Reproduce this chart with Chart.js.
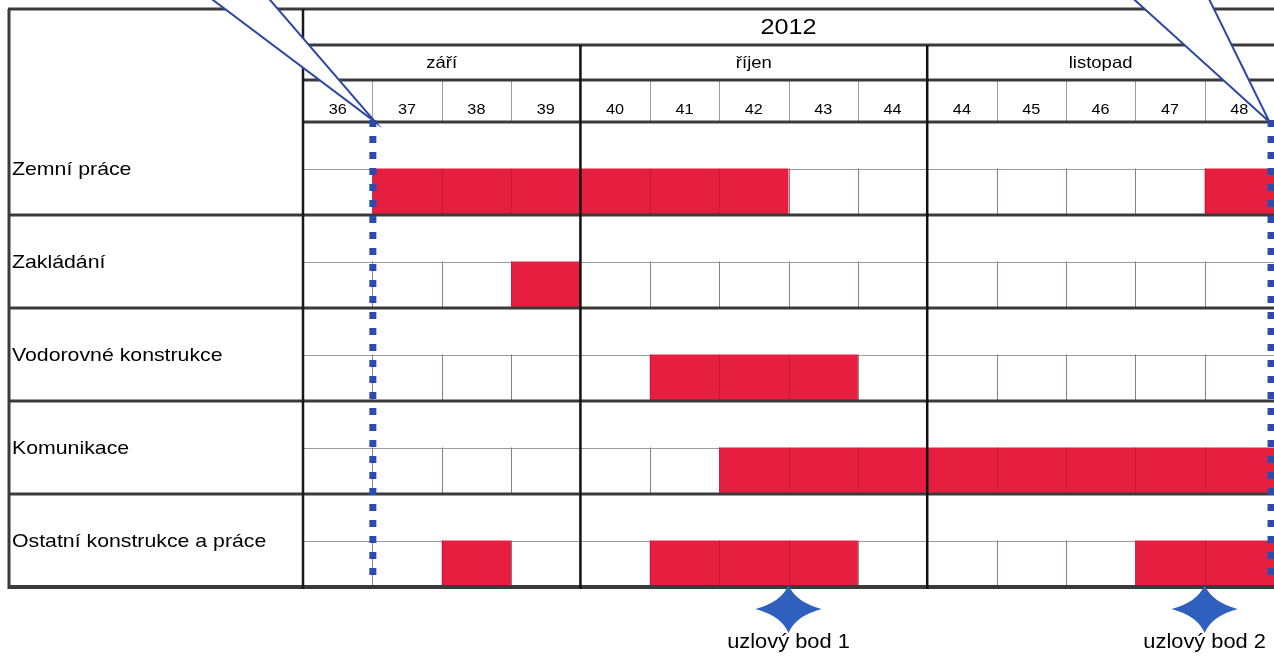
<!DOCTYPE html>
<html>
<head>
<meta charset="utf-8">
<script src="https://cdn.jsdelivr.net/npm/chart.js@4/dist/chart.umd.min.js"></script>
<style>
  html, body { margin: 0; padding: 0; background: #fff; }
  canvas { display: block; }
</style>
</head>
<body>
<canvas id="c" width="1274" height="657"></canvas>
<script>
/* Harmonogram 2012 — Gantt kreslený přes floating bar (indexAxis y) */
const year = '2012';
const months = ['září', 'říjen', 'listopad'];
const monthStart = [0, 4, 9];          // index týdne, kde měsíc začíná
const weeks = ['36', '37', '38', '39', '40', '41', '42', '43', '44', '44', '45', '46', '47', '48'];
const tasks = ['Zemní práce', 'Zakládání', 'Vodorovné konstrukce', 'Komunikace', 'Ostatní konstrukce a práce'];

// úseky prací: řádek, od (index týdne), do
const barTask  = [0, 0, 1, 2, 3, 4, 4, 4];
const barStart = [1, 13, 3, 5, 6, 2, 5, 12];
const barEnd   = [7, 14, 4, 8, 14, 3, 8, 14];

const milestoneX = [1, 13.95];          // modré tečkované čáry
const nodeX = [7, 13];                  // uzlové body (hvězdy)
const nodeLabels = ['uzlový bod 1', 'uzlový bod 2'];

const RED = '#E61E3F', BLUE = '#2B4BAF', STAR = '#2F60BE', FRAME = '#3a3a3a';
const FONT = '"Liberation Sans", Arial, sans-serif';

function txt(ctx, s, x, y, size, align) {
  ctx.save();
  ctx.font = size + 'px ' + FONT;
  ctx.fillStyle = '#000';
  ctx.textAlign = align || 'center';
  ctx.textBaseline = 'middle';
  ctx.translate(x, y);
  ctx.scale(1.12, 1);                   // předloha je vodorovně roztažená
  ctx.fillText(s, 0, 0);
  ctx.restore();
}
function line(ctx, x1, y1, x2, y2, w, c) {
  ctx.beginPath(); ctx.moveTo(x1, y1); ctx.lineTo(x2, y2);
  ctx.lineWidth = w; ctx.strokeStyle = c; ctx.stroke();
}
function star(ctx, cx, cy, rx, ry) {
  const k = 7;
  ctx.beginPath();
  ctx.moveTo(cx, cy - ry);
  ctx.quadraticCurveTo(cx + k, cy - k, cx + rx, cy);
  ctx.quadraticCurveTo(cx + k, cy + k, cx, cy + ry);
  ctx.quadraticCurveTo(cx - k, cy + k, cx - rx, cy);
  ctx.quadraticCurveTo(cx - k, cy - k, cx, cy - ry);
  ctx.closePath();
  ctx.fillStyle = STAR; ctx.fill();
}

const HEAD_TOP = 9, YEAR_BOT = 45, MONTH_BOT = 80, FRAME_L = 9, LABEL_R = 303;

const tablePlugin = {
  id: 'ganttTable',
  beforeDraw(chart) {
    const ctx = chart.ctx;
    ctx.save(); ctx.fillStyle = '#fff'; ctx.fillRect(0, 0, chart.width, chart.height); ctx.restore();
  },
  beforeDatasetsDraw(chart) {
    const { ctx, chartArea: a, scales: { x, y } } = chart;
    ctx.save();
    // tenké šedé čáry: týdny v hlavičce + spodní polovina řádků
    for (let k = 1; k < weeks.length; k++) {
      const px = Math.round(x.getPixelForValue(k)) + 0.5;
      line(ctx, px, MONTH_BOT, px, a.top, 1, '#9a9a9a');
      for (let i = 0; i < tasks.length; i++) {
        line(ctx, px, y.getPixelForValue(i + 0.5), px, y.getPixelForValue(i + 1), 1, '#9a9a9a');
      }
    }
    for (let i = 0; i < tasks.length; i++) {
      const py = Math.round(y.getPixelForValue(i + 0.5)) + 0.5;
      line(ctx, a.left, py, a.right, py, 1, '#9a9a9a');
    }
    ctx.restore();
  },
  afterDatasetsDraw(chart) {
    const { ctx, chartArea: a, scales: { x, y } } = chart;
    ctx.save();
    // slabé čáry přes červené úseky
    for (let k = 1; k < weeks.length; k++) {
      const px = Math.round(x.getPixelForValue(k)) + 0.5;
      for (let i = 0; i < tasks.length; i++) {
        line(ctx, px, y.getPixelForValue(i + 0.5), px, y.getPixelForValue(i + 1), 1, 'rgba(90,0,20,0.18)');
      }
    }
    // tlusté rámy
    line(ctx, FRAME_L - 1, HEAD_TOP, a.right, HEAD_TOP, 3, FRAME);
    line(ctx, LABEL_R, YEAR_BOT, a.right, YEAR_BOT, 3, FRAME);
    line(ctx, LABEL_R, MONTH_BOT, a.right, MONTH_BOT, 3, FRAME);
    line(ctx, LABEL_R, a.top, a.right, a.top, 3, FRAME);
    for (let i = 1; i <= tasks.length; i++) {
      const py = y.getPixelForValue(i);
      line(ctx, FRAME_L - 1, py, a.right, py, i === tasks.length ? 4 : 3, FRAME);
    }
    line(ctx, FRAME_L, HEAD_TOP, FRAME_L, a.bottom + 2, 3, FRAME);
    line(ctx, LABEL_R, HEAD_TOP, LABEL_R, a.bottom + 2, 2.5, '#1a1a1a');
    monthStart.forEach((m, i) => {
      if (i === 0) return;
      const px = x.getPixelForValue(m);
      line(ctx, px, YEAR_BOT, px, a.bottom + 2, 2.5, '#111');
    });

    // texty hlavičky
    txt(ctx, year, (a.left + a.right) / 2, (HEAD_TOP + YEAR_BOT) / 2 + 1, 22.5);
    monthStart.forEach((m, i) => {
      const end = i + 1 < monthStart.length ? monthStart[i + 1] : weeks.length;
      txt(ctx, months[i], (x.getPixelForValue(m) + x.getPixelForValue(end)) / 2, (YEAR_BOT + MONTH_BOT) / 2 + 1, 16.5);
    });
    weeks.forEach((w, k) => {
      txt(ctx, w, x.getPixelForValue(k + 0.5), 110, 14.5);
    });
    tasks.forEach((t, i) => {
      txt(ctx, t, FRAME_L + 3, y.getPixelForValue(i + 0.5) + 1, 19, 'left');
    });

    // modré tečkované čáry
    ctx.fillStyle = BLUE;
    milestoneX.forEach(m => {
      const px = x.getPixelForValue(m);
      for (let py = a.top - 2; py < a.bottom - 4; py += 16) ctx.fillRect(px - 3, py, 7, 7);
    });

    // bílé klíny bublin shora
    const wedges = [[-162, -104, 3], [-138, -62, -1]];
    milestoneX.forEach((m, i) => {
      const px = x.getPixelForValue(m), w = wedges[i];
      ctx.beginPath();
      ctx.moveTo(px + w[0], -2);
      ctx.lineTo(px + w[2], a.top);
      ctx.lineTo(px + w[1], -2);
      ctx.closePath();
      ctx.fillStyle = '#fff'; ctx.fill();
      ctx.beginPath();
      ctx.moveTo(px + w[0], -2); ctx.lineTo(px + w[2], a.top); ctx.lineTo(px + w[1], -2);
      ctx.lineWidth = 2; ctx.strokeStyle = '#2E47A6'; ctx.stroke();
    });

    // uzlové body
    nodeX.forEach((n, i) => {
      const px = x.getPixelForValue(n);
      star(ctx, px, a.bottom + 22, 33, 24);
      txt(ctx, nodeLabels[i], px, a.bottom + 56, 19.5);
    });
    ctx.restore();
  }
};

const bars = barStart.map((s, i) => ({ x: [s, barEnd[i]], y: barTask[i] + 0.75 }));

new Chart(document.getElementById('c'), {
  type: 'bar',
  data: {
    datasets: [{
      data: bars,
      backgroundColor: RED,
      borderWidth: 0,
      categoryPercentage: 0.5,
      barPercentage: 1
    }]
  },
  options: {
    indexAxis: 'y',
    responsive: false,
    animation: false,
    layout: { padding: { left: LABEL_R, top: 122, right: 0, bottom: 70 } },
    scales: {
      x: { type: 'linear', min: 0, max: weeks.length, display: false },
      y: { type: 'linear', min: 0, max: tasks.length, reverse: true, offset: false, display: false, ticks: { stepSize: 1 } }
    },
    plugins: { legend: { display: false }, tooltip: { enabled: false } }
  },
  plugins: [tablePlugin]
});
</script>
</body>
</html>
